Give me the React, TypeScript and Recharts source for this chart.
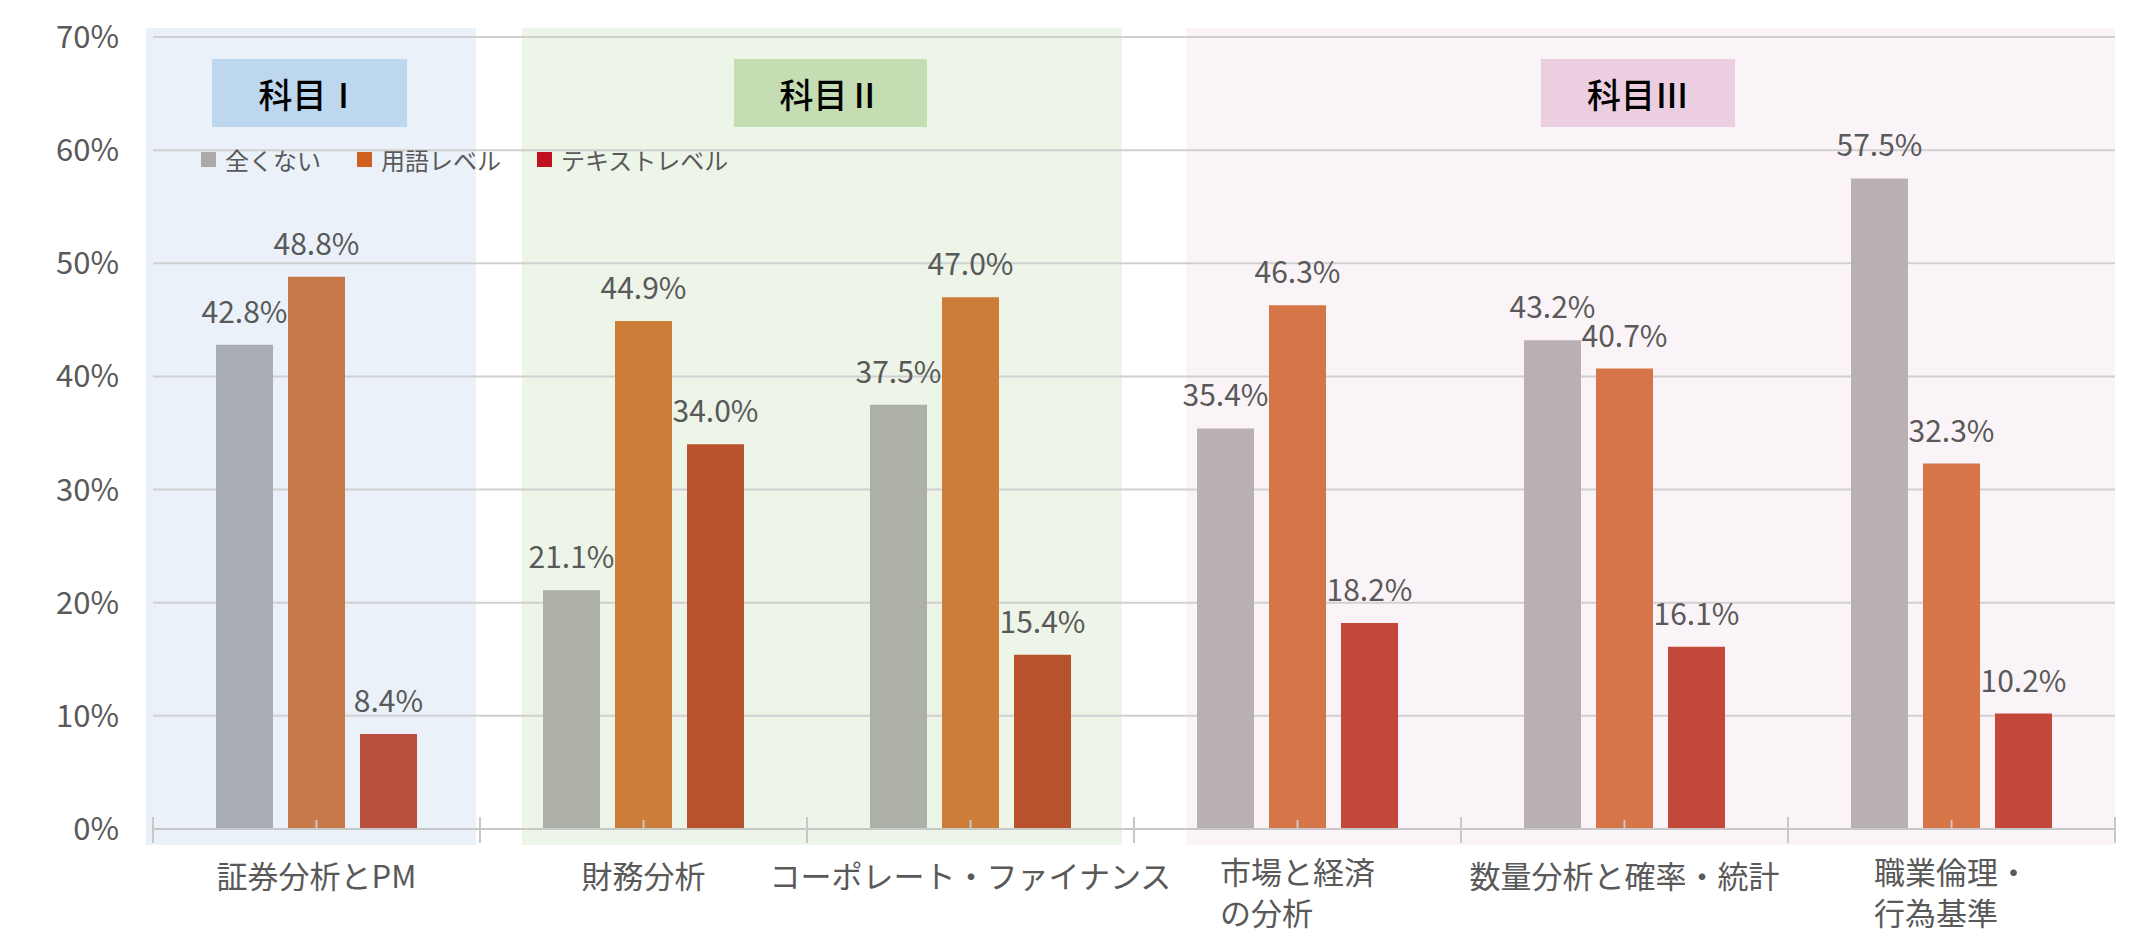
import { BarChart, Bar, XAxis, YAxis, CartesianGrid, Cell, LabelList, Legend } from 'recharts';

const categories = [
  '証券分析とPM',
  '財務分析',
  'コーポレート・ファイナンス',
  '市場と経済\nの分析',
  '数量分析と確率・統計',
  '職業倫理・\n行為基準',
];

// values in %
const noneValues = [42.8, 21.1, 37.5, 35.4, 43.2, 57.5];
const termValues = [48.8, 44.9, 47.0, 46.3, 40.7, 32.3];
const textValues = [8.4, 34.0, 15.4, 18.2, 16.1, 10.2];

const seriesNames = ['全くない', '用語レベル', 'テキストレベル'];
const yTicks = [0, 10, 20, 30, 40, 50, 60, 70];

// bars look tinted by the section background behind them
const noneColors = ['#A9ADB5', '#ADB0A7', '#ADB0A7', '#B9B0B4', '#B9B0B4', '#B9B0B4'];
const termColors = ['#C87949', '#CC7E39', '#CC7E39', '#D57548', '#D57548', '#D57548'];
const textColors = ['#B84F3C', '#B8522C', '#B8522C', '#C4483A', '#C4483A', '#C4483A'];
const legendColors = ['#ADA9AA', '#D0601F', '#C00F1E'];

const data = categories.map((name, i) => ({
  name,
  none: noneValues[i],
  term: termValues[i],
  text: textValues[i],
}));

const FONT = '"Noto Sans CJK JP", "Noto Sans", sans-serif';
const TEXT = '#595959';
const AXIS = '#C8C8C8';

const sections = [
  { left: 146, width: 330, bg: '#EAF1F9', box: { left: 212, width: 195, bg: '#BDD7EE' }, title: '科目Ⅰ' },
  { left: 522, width: 600, bg: '#EDF4E8', box: { left: 734, width: 193, bg: '#C5DDB3' }, title: '科目Ⅱ' },
  { left: 1186, width: 929, bg: '#FAF4F8', box: { left: 1541, width: 194, bg: '#EBCFE0' }, title: '科目Ⅲ' },
];

function XTick(props: any) {
  const { x, y, payload, index } = props;
  const half = payload?.offset || 163.5;
  const lines: string[] = String(payload.value).split('\n');
  const fs = 31;
  const longest = Math.max(...lines.map((l) => l.length));
  return (
    <g>
      <line x1={x - half} x2={x - half} y1={y - 12} y2={y + 14} stroke={AXIS} strokeWidth={2} />
      {index === categories.length - 1 && (
        <line x1={x + half} x2={x + half} y1={y - 12} y2={y + 14} stroke={AXIS} strokeWidth={2} />
      )}
      <line x1={x} x2={x} y1={y - 9} y2={y} stroke={AXIS} strokeWidth={2} />
      {lines.length === 1 ? (
        <text x={x} y={y + 59} textAnchor="middle" fontSize={fs} fill={TEXT} fontFamily={FONT}>
          {lines[0]}
        </text>
      ) : (
        lines.map((l, i) => (
          <text key={i} x={x - (longest * fs) / 2} y={y + 55 + i * 41} textAnchor="start" fontSize={fs} fill={TEXT} fontFamily={FONT}>
            {l}
          </text>
        ))
      )}
    </g>
  );
}

function LegendContent() {
  return (
    <div style={{ display: 'flex', alignItems: 'center', fontFamily: FONT, fontSize: 24, color: TEXT }}>
      {seriesNames.map((n, i) => (
        <div key={n} style={{ display: 'flex', alignItems: 'center', marginRight: 36 }}>
          <span style={{ width: 15, height: 15, background: legendColors[i], display: 'inline-block', marginRight: 9 }} />
          <span>{n}</span>
        </div>
      ))}
    </div>
  );
}

const fmt = (v: any) => `${Number(v).toFixed(1)}%`;

export default function App() {
  return (
    <div style={{ position: 'absolute', top: 0, left: 0, width: 2149, height: 947, background: '#fff', overflow: 'hidden' }}>
      {sections.map((s) => (
        <div key={s.title} style={{ position: 'absolute', left: s.left, width: s.width, top: 28, height: 817, background: s.bg }} />
      ))}
      <div style={{ position: 'absolute', top: 0, left: 0 }}>
        <BarChart
          width={2149}
          height={947}
          data={data}
          margin={{ top: 37, right: 34, bottom: 88, left: 0 }}
          barSize={57}
          barGap={15}
        >
          <CartesianGrid vertical={false} stroke="#D0D0D0" strokeWidth={2} />
          <XAxis
            dataKey="name"
            height={30}
            interval={0}
            tickLine={false}
            tickSize={0}
            tickMargin={0}
            axisLine={{ stroke: AXIS, strokeWidth: 2 }}
            tick={<XTick />}
          />
          <YAxis
            width={153}
            domain={[0, 70]}
            ticks={yTicks}
            tickFormatter={(v: number) => `${v}%`}
            axisLine={false}
            tickLine={false}
            tickMargin={28}
            tick={{ fontSize: 31, fill: TEXT, fontFamily: FONT }}
          />
          <Legend
            layout="horizontal"
            verticalAlign="middle"
            align="center"
            content={<LegendContent />}
            wrapperStyle={{ position: 'absolute', top: 142, left: 201, width: 'auto' }}
          />
          <Bar dataKey="none" name={seriesNames[0]} fill={legendColors[0]} isAnimationActive={false}>
            {data.map((_, i) => (
              <Cell key={i} fill={noneColors[i]} />
            ))}
            <LabelList dataKey="none" position="top" offset={22} formatter={fmt} style={{ fontSize: 30, fill: TEXT, fontFamily: FONT }} />
          </Bar>
          <Bar dataKey="term" name={seriesNames[1]} fill={legendColors[1]} isAnimationActive={false}>
            {data.map((_, i) => (
              <Cell key={i} fill={termColors[i]} />
            ))}
            <LabelList dataKey="term" position="top" offset={22} formatter={fmt} style={{ fontSize: 30, fill: TEXT, fontFamily: FONT }} />
          </Bar>
          <Bar dataKey="text" name={seriesNames[2]} fill={legendColors[2]} isAnimationActive={false}>
            {data.map((_, i) => (
              <Cell key={i} fill={textColors[i]} />
            ))}
            <LabelList dataKey="text" position="top" offset={22} formatter={fmt} style={{ fontSize: 30, fill: TEXT, fontFamily: FONT }} />
          </Bar>
        </BarChart>
      </div>
      {sections.map((s) => (
        <div
          key={s.title + 'box'}
          style={{
            position: 'absolute',
            left: s.box.left,
            width: s.box.width,
            top: 59,
            height: 68,
            background: s.box.bg,
            display: 'flex',
            alignItems: 'center',
            justifyContent: 'center',
            fontFamily: FONT,
            fontSize: 34,
            fontWeight: 500,
            color: '#000',
          }}
        >
          {s.title}
        </div>
      ))}
    </div>
  );
}
